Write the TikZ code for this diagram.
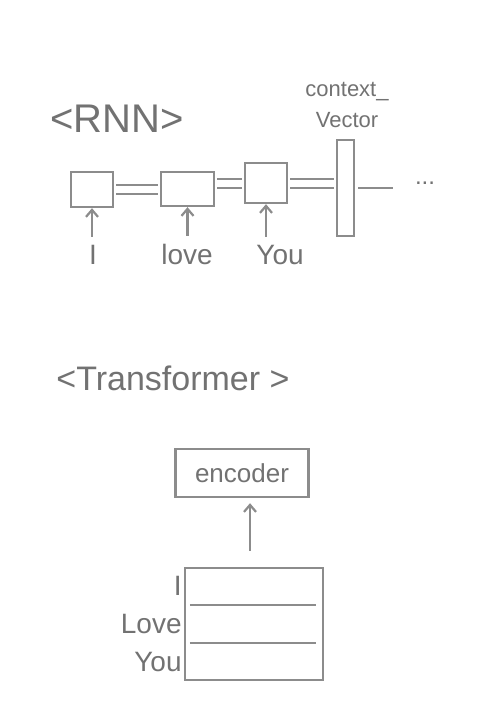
\documentclass[tikz,border=0pt]{standalone}
\usepackage{fontspec}
\setmainfont{Liberation Sans}
\usetikzlibrary{arrows.meta,positioning,calc}
\definecolor{pencil}{HTML}{8C8C8C}
\definecolor{lead}{HTML}{727272}
\tikzset{
  cell/.style={draw=pencil, line width=2.4pt, inner sep=0pt},
  link/.style={draw=pencil, line width=2pt, double=white, double distance=7pt,
               shorten <=2pt, shorten >=2pt},
  arrow/.style={-{Straight Barb[length=7pt,width=12pt]}, line width=2.2pt, draw=pencil},
  word/.style={text=lead, font=\fontsize{28}{30}\selectfont, inner sep=2pt},
  heading/.style={text=lead, inner sep=0pt}
}

\begin{document}
\begin{tikzpicture}[x=1pt,y=-1pt]
        \useasboundingbox[fill=white] (0,0) rectangle (487,715);
        % RNN
        \node[heading,font=\fontsize{40}{42}\selectfont] (rnn) at (117,119) {<RNN>};
        \node[heading,font=\fontsize{22}{31}\selectfont,align=center] (ctxlab) at (347,104.5) {context\_\\Vector};
        \node[cell,minimum width=42pt,minimum height=35pt] (h1) at (92,189.5) {};
        \node[cell,minimum width=53pt,minimum height=34pt] (h2) at (187.5,189) {};
        \node[cell,minimum width=42pt,minimum height=40pt] (h3) at (266,183) {};
        \node[cell,minimum width=17pt,minimum height=96pt] (ctx) at (345.5,188) {};
        \node[heading,font=\fontsize{24}{26}\selectfont] (dots) at (425,183) {...};
        \draw[link] (h1.east) -- (h1.east -| h2.west);
        \draw[link] (h3.west -| h2.east) -- (h3.west);
        \draw[link] (h3.east) -- (h3.east -| ctx.west);
        \draw[draw=pencil,line width=2pt,shorten <=3pt,shorten >=22pt] (ctx.east) -- (ctx.east -| dots.west);
        \foreach \i/\w/\x in {1/I/93,2/love/187,3/You/280} {
          \node[word,anchor=base] (w\i) at (\x,264) {\w};
          \draw[arrow,shorten <=6pt] (w\i.north -| h\i.south) -- (h\i.south);
        }
        % Transformer
        \node[heading,font=\fontsize{34}{36}\selectfont] (tf) at (173,378) {<Transformer >};
        \node[cell,minimum width=133pt,minimum height=48pt,text=lead,
              font=\fontsize{26}{28}\selectfont] (enc) at (242,473) {encoder};
        \node[cell,minimum width=138pt,minimum height=112pt] (emb) at (254,624) {};
        \foreach \k in {1,2}
          {\draw[draw=pencil,line width=2pt,shorten <=6pt,shorten >=8pt]
             ($(emb.north west)!\k/3!(emb.south west)$) -- ($(emb.north east)!\k/3!(emb.south east)$);}
        \foreach \k/\w in {1/I,2/Love,3/You}
          {\node[word,anchor=east] (t\k) at ($(emb.north west)!{(\k-0.5)/3}!(emb.south west)$) {\w};}
        \draw[arrow,shorten <=16pt,shorten >=5pt] ([xshift=8pt]enc.south |- emb.north) -- ([xshift=8pt]enc.south);
      \end{tikzpicture}
\end{document}
